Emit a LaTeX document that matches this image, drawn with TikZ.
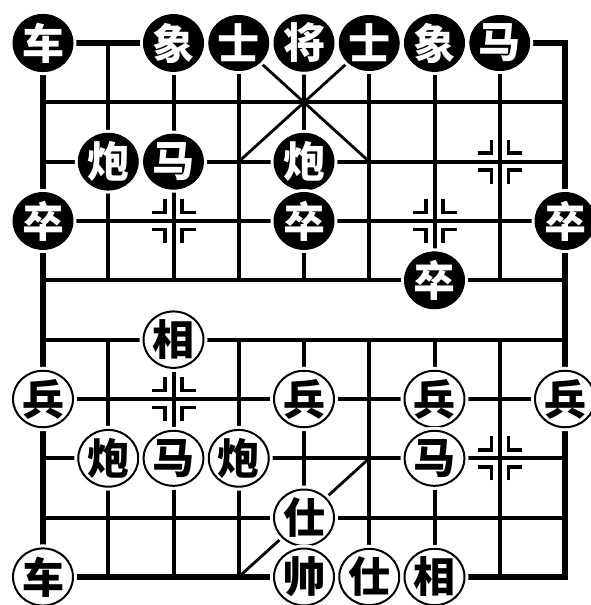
\documentclass[tikz,border=0pt]{standalone}
\usepackage{fontspec}
\newfontfamily\cjk{Noto Sans CJK SC}
\usetikzlibrary{shapes.geometric}
\begin{document}
\begin{tikzpicture}[x=1pt,y=-1pt,
  gridline/.style={line width=4pt},
  diagline/.style={line width=2.8pt},
  borderline/.style={line width=5.5pt, line cap=rect},
  markline/.style={line width=3.5pt},
  piece/.style={ellipse, minimum width=60pt, minimum height=55pt, inner sep=0pt,
    font=\cjk\bfseries\fontsize{42}{42}\selectfont},
  blackpiece/.style={piece, fill=black, draw=black, line width=1pt, text=white,
    preaction={draw=white, line width=7pt}},
  redpiece/.style={piece, fill=white, draw=black, line width=2pt, text=black,
    preaction={draw=white, line width=8pt}},
]
\useasboundingbox (0,0) rectangle (591,605);
\foreach \i in {0,...,8}
  \foreach \j in {0,...,9}
    \coordinate (g\i-\j) at ({43+65.25*\i},{43+59.33*\j});

% grid
\foreach \j in {1,...,8} \draw[gridline] (g0-\j) -- (g8-\j);
\foreach \i in {1,...,7} {
  \draw[gridline] (g\i-0) -- (g\i-4);
  \draw[gridline] (g\i-5) -- (g\i-9);
}
% border
\draw[borderline] (g0-0) -- (g0-9);
\draw[borderline] (g8-0) -- (g8-9);
\draw[borderline] (g0-0) -- (g2-0);
\draw[borderline] (g7-0) -- (g8-0);
\draw[borderline] (g0-9) -- (g4-9);
\draw[borderline] (g6-9) -- (g8-9);
% palace
\draw[diagline] (g3-0) -- (g5-2);
\draw[diagline] (g5-0) -- (g3-2);
\draw[diagline] (g5-7) -- (g3-9);
% position markers
\foreach \c in {g2-3,g6-3,g7-2,g2-6,g7-7}
  \foreach \sx in {-1,1}
    \foreach \sy in {-1,1}
      \draw[markline, shift={(\c)}] (\sx*8.5,\sy*22) -- (\sx*8.5,\sy*8.5) -- (\sx*22,\sy*8.5);

% black pieces
\node[blackpiece] (b1) at (g0-0) {车};
\node[blackpiece] (b2) at (g2-0) {象};
\node[blackpiece] (b3) at (g3-0) {士};
\node[blackpiece] (b4) at (g4-0) {将};
\node[blackpiece] (b5) at (g5-0) {士};
\node[blackpiece] (b6) at (g6-0) {象};
\node[blackpiece] (b7) at (g7-0) {马};
\node[blackpiece] (b8) at (g1-2) {炮};
\node[blackpiece] (b9) at (g2-2) {马};
\node[blackpiece] (b10) at (g4-2) {炮};
\node[blackpiece] (b11) at (g0-3) {卒};
\node[blackpiece] (b12) at (g4-3) {卒};
\node[blackpiece] (b13) at (g8-3) {卒};
\node[blackpiece] (b14) at (g6-4) {卒};
% red pieces
\node[redpiece] (r1) at (g2-5) {相};
\node[redpiece] (r2) at (g0-6) {兵};
\node[redpiece] (r3) at (g4-6) {兵};
\node[redpiece] (r4) at (g6-6) {兵};
\node[redpiece] (r5) at (g8-6) {兵};
\node[redpiece] (r6) at (g1-7) {炮};
\node[redpiece] (r7) at (g2-7) {马};
\node[redpiece] (r8) at (g3-7) {炮};
\node[redpiece] (r9) at (g6-7) {马};
\node[redpiece] (r10) at (g4-8) {仕};
\node[redpiece] (r11) at (g0-9) {车};
\node[redpiece] (r12) at (g4-9) {帅};
\node[redpiece] (r13) at (g5-9) {仕};
\node[redpiece] (r14) at (g6-9) {相};
\end{tikzpicture}
\end{document}
